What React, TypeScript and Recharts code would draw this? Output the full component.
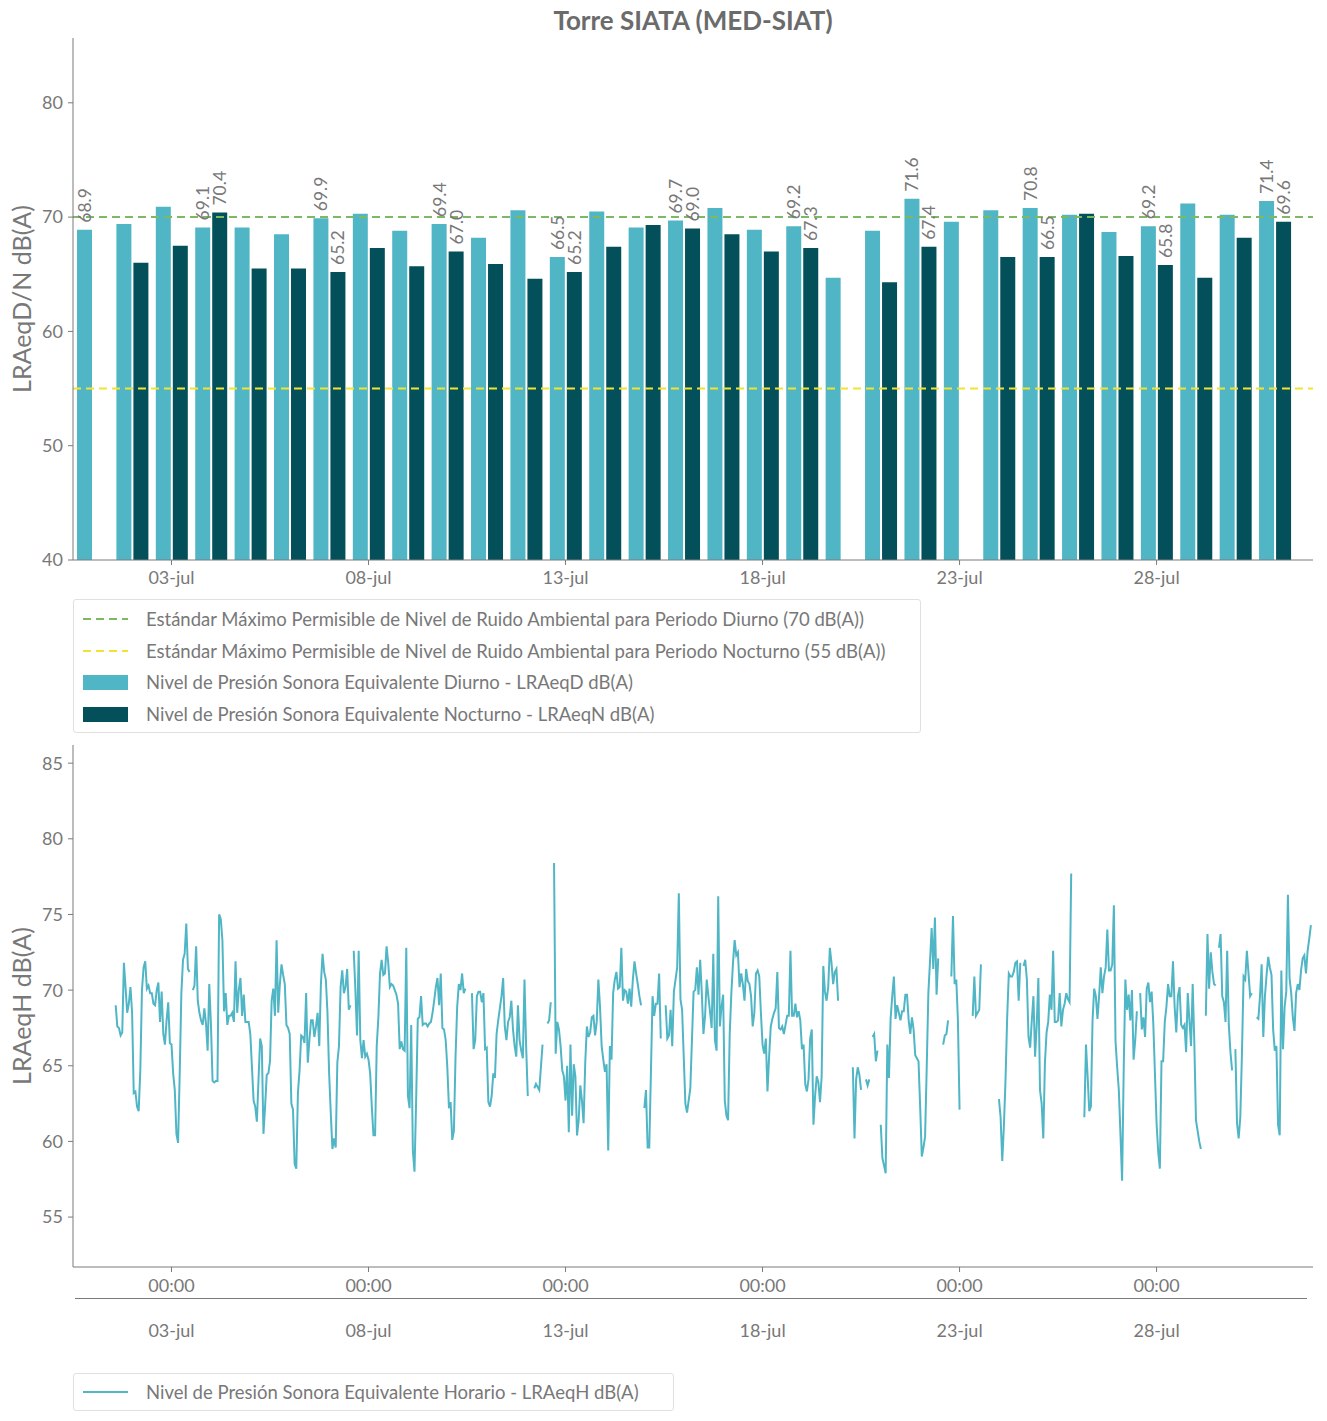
import React from 'react';
import { ComposedChart, Bar, XAxis, YAxis, ReferenceLine, LabelList, LineChart, Line } from 'recharts';

const FONT = 'Lato, "Noto Sans", sans-serif';
const TEXT = '#787878';
const AXIS = '#7a7a7a';
const LIGHT = '#50b6c5';
const DARK = '#03505a';
const GREEN = '#7db862';
const YELLOW = '#f2e330';

// days of July
const days = [1, 2, 3, 4, 5, 6, 7, 8, 9, 10, 11, 12, 13, 14, 15, 16, 17, 18, 19, 20, 21, 22, 23, 24, 25, 26, 27, 28, 29, 30, 31];
const diurno = [68.9, 69.4, 70.9, 69.1, 69.1, 68.5, 69.9, 70.3, 68.8, 69.4, 68.2, 70.6, 66.5, 70.5, 69.1, 69.7, 70.8, 68.9, 69.2, 64.7, 68.8, 71.6, 69.6, 70.6, 70.8, 70.2, 68.7, 69.2, 71.2, 70.2, 71.4];
const nocturno = [null, 66.0, 67.5, 70.4, 65.5, 65.5, 65.2, 67.3, 65.7, 67.0, 65.9, 64.6, 65.2, 67.4, 69.3, 69.0, 68.5, 67.0, 67.3, null, 64.3, 67.4, null, 66.5, 66.5, 70.3, 66.6, 65.8, 64.7, 68.2, 69.6];
const labeledDays = [1, 4, 7, 10, 13, 16, 19, 22, 25, 28, 31];
const dateTicks = [3, 8, 13, 18, 23, 28];
const topTicks = [40, 50, 60, 70, 80];
const bottomTicks = [55, 60, 65, 70, 75, 80, 85];
const limitDay = 70;
const limitNight = 55;

// hourly LRAeqH, one row of 24 hours per day
const lraeqH: (number | null)[][] = [
  [null, null, null, null, null, null, null, null, null, null, null, null, null, null, 69.0, 67.6, 67.5, 67.0, 67.2, 71.8, 70.2, 68.5, 69.1, 70.2],
  [68.5, 63.2, 63.3, 62.3, 62.0, 64.7, 70.0, 71.5, 71.9, 70.1, 70.3, 69.8, 69.8, 69.1, 69.0, 70.0, 70.5, 67.9, 69.9, 67.1, 66.4, 68.0, 69.2, 66.5],
  [66.4, 64.5, 63.4, 60.5, 59.9, 64.5, 69.8, 72.0, 72.4, 74.4, 71.4, 71.2, null, 70.0, 70.3, 72.9, 69.3, 68.5, 68.0, 67.7, 68.8, 67.8, 66.0, 70.4],
  [67.8, 64.0, 63.9, 64.0, 64.0, 75.0, 74.7, 73.3, 68.6, 69.8, 67.7, 68.3, 68.3, 68.5, 67.9, 71.9, 68.5, 70.0, 70.8, 68.3, 69.7, 67.9, 67.9, 67.9],
  [67.1, 64.9, 62.7, 62.3, 61.3, 64.1, 66.8, 66.3, 60.5, 62.3, 64.4, 64.5, 65.3, 69.3, 70.1, 68.3, 73.3, 68.5, 70.4, 71.7, 71.0, 70.4, 67.7, 67.5],
  [67.1, 62.5, 62.1, 58.5, 58.2, 63.2, 64.7, 67.0, 66.9, 66.5, 69.8, 65.2, 66.7, 68.0, 68.0, 66.9, 67.6, 68.5, 66.3, 70.4, 72.4, 71.2, 70.7, 68.5],
  [64.5, 61.9, 59.5, 60.2, 59.6, 65.2, 66.3, 70.2, 71.3, 69.8, 70.2, 71.4, 68.7, 69.0, null, 72.6, 70.0, 67.0, 72.6, 66.7, 65.5, 66.7, 65.6, 65.8],
  [65.4, 64.5, 62.3, 60.4, 60.4, 66.3, 68.2, 71.1, 72.0, 71.0, 71.1, 72.9, 71.8, 70.2, 70.4, 70.3, 70.0, 69.7, 69.1, 66.1, 66.6, 66.1, 66.0, 72.8],
  [63.0, 62.2, 67.7, 59.4, 58.0, 62.7, 68.1, 68.2, 69.6, 67.7, 67.8, 67.8, 67.6, 67.8, 67.9, 68.5, 69.3, 70.2, 70.8, 69.0, 71.1, 67.5, 67.4, 66.7],
  [64.9, 62.2, 62.6, 60.1, 60.7, 65.6, 68.9, 70.4, 70.0, 71.1, 69.8, 70.1, null, null, null, 69.8, 66.1, 66.7, 69.6, 69.9, 69.9, 69.2, 69.8, 66.1],
  [66.2, 62.6, 62.3, 63.0, 64.5, 64.2, 67.1, 68.0, 68.8, 69.6, 70.8, 67.6, 66.7, 67.9, 68.2, 69.3, 67.4, 66.3, 65.6, 69.0, 66.7, 66.0, 65.5, 70.7],
  [66.3, 63.0, null, null, null, 63.5, 63.8, 63.6, 63.4, 64.9, 66.4, null, null, 67.8, 68.0, 69.2, null, 78.4, 65.8, 67.9, 67.4, 66.3, 64.7, 64.3],
  [62.7, 65.0, 60.6, 66.4, 61.7, 65.1, 64.3, 60.4, 61.4, 63.7, 62.7, 61.2, 65.2, 67.6, 66.9, 67.2, 68.2, 68.3, 67.0, 67.9, 70.7, 68.9, 66.3, 65.4],
  [64.6, 65.1, 59.4, 66.3, 65.4, 69.8, 70.7, 71.2, 70.1, 70.2, 72.8, 69.3, 70.0, 69.9, 69.1, 70.1, 68.9, 70.7, 71.9, 71.1, 70.4, 69.6, 69.0, null],
  [62.2, 63.4, 59.6, 59.6, 64.5, 69.6, 68.3, 69.1, 69.1, 71.1, 66.8, null, null, 69.0, 66.8, 67.0, 68.7, 66.3, 69.9, 70.7, 71.5, 76.4, 69.4, 68.7],
  [65.6, 62.5, 61.9, 62.7, 63.5, 66.7, 69.9, 70.0, 71.5, 69.7, 72.0, 69.8, 67.1, 68.3, 70.7, 69.6, 68.6, 67.5, 72.4, 66.7, 66.0, 76.2, 67.6, 68.9],
  [69.7, 62.7, 61.7, 61.4, 67.1, 69.8, 71.8, 73.3, 72.3, 72.5, 70.2, 71.1, 70.4, 69.3, 71.4, 70.6, 70.4, 69.6, 67.6, 68.5, 71.1, 71.3, 70.9, 68.5],
  [66.4, 65.8, 66.8, 63.3, 65.6, 67.6, 68.1, 68.5, 68.8, 71.2, 67.5, 67.4, 67.6, 67.1, 67.7, 68.3, 68.3, 72.6, 68.3, 68.3, 69.1, 68.2, 68.6, 68.0],
  [66.1, 66.4, 63.8, 63.3, 64.1, 66.8, 67.4, 61.1, 63.0, 64.3, 63.9, 62.6, 64.3, 71.6, 69.9, 69.3, 70.2, 72.8, 71.8, 70.4, 71.2, 71.4, 69.3, null],
  [null, null, null, null, null, null, null, 64.9, 60.2, 64.1, 64.9, 64.4, 63.4, null, null, 64.1, 63.7, 64.1, null, 66.9, 67.1, 65.3, 66.0, null],
  [61.1, 58.9, 58.4, 57.9, 66.4, 64.2, 68.1, 69.6, 70.9, 68.1, 69.0, 68.5, 68.0, 68.6, 68.6, 69.7, 69.7, 68.0, 67.1, 68.2, 67.4, 65.7, 65.5, 65.3],
  [62.3, 59.0, 59.6, 60.3, 64.9, 69.8, 71.9, 74.1, 71.4, 74.8, 69.7, 72.1, null, null, 66.4, 67.0, 67.1, 68.0, null, 70.9, 74.9, 70.4, 70.7, 68.0],
  [62.1, null, null, null, null, null, null, null, 68.3, 70.9, 68.3, 68.5, 68.7, 71.7, null, null, null, null, null, null, null, null, null, null],
  [62.8, 61.6, 58.7, 61.0, 64.1, 68.2, 71.1, 70.9, 70.9, 71.2, 71.8, 71.9, 69.3, 71.8, null, 71.6, 72.0, 70.7, 66.9, 66.2, 68.0, 69.6, 65.6, 67.7],
  [70.8, 63.4, 62.5, 60.2, 65.2, 67.2, 67.9, 69.7, 68.7, 72.6, 67.9, 67.9, 68.0, 69.8, 67.6, 68.7, 69.1, 69.8, 69.4, 69.2, 77.7, null, null, null],
  [null, null, null, null, 61.6, 66.4, 64.3, 62.0, 62.3, 68.0, 70.1, 69.6, 68.1, 69.6, 71.5, 69.8, 70.9, 71.5, 74.0, 71.3, 71.3, 71.7, 75.6, 66.6],
  [64.9, 63.4, 60.5, 57.4, 64.9, 70.7, 68.7, 69.7, 68.0, 70.0, 65.4, 66.7, 68.6, null, 69.8, 67.4, 68.2, 66.9, 70.1, 70.5, 69.2, 69.9, 67.8, 64.5],
  [61.2, 59.3, 58.2, 65.3, 65.3, 67.9, 68.9, 70.4, 69.6, 69.6, 71.9, 68.9, 67.2, 69.6, 70.2, 67.7, 67.5, 67.7, 65.9, 69.8, 68.0, 66.3, 70.4, 66.5],
  [61.4, 60.7, 60.0, 59.5, null, null, 68.3, 73.7, 70.1, 72.5, 71.2, 70.4, 70.3, null, 72.8, 73.7, 69.6, 69.2, 67.9, 72.6, 67.7, 65.9, 64.7, null],
  [66.1, 61.2, 60.2, 61.6, 65.8, 70.9, 70.7, 72.6, 71.1, 69.6, 69.8, null, null, 68.2, 68.1, 69.6, 71.7, 66.9, 69.6, 71.0, 72.2, 71.5, 71.0, 67.4],
  [66.0, 66.3, 61.1, 60.4, 71.3, 66.1, 68.9, 69.9, 76.3, 70.8, 69.8, 68.2, 67.3, 69.8, 70.4, 70.0, 71.3, 72.1, 72.3, 71.1, 72.6, 73.4, 74.3, null],
];

const barData = days.map((d, i) => ({
  day: d,
  diurno: diurno[i],
  nocturno: nocturno[i],
  diurnoLabel: labeledDays.includes(d) ? diurno[i] : null,
  nocturnoLabel: labeledDays.includes(d) ? nocturno[i] : null,
}));

const lineData = lraeqH.flatMap((row, di) => row.map((v, h) => ({ t: days[di] + h / 24, v })));

const X_DOMAIN: [number, number] = [0.5, 31.97];
const fmtDate = (d: number) => `${String(d).padStart(2, '0')}-jul`;

const tickStyle = { fill: TEXT, fontSize: 18, fontFamily: FONT };

const BarValueLabel = (props: any) => {
  const { x, y, width, value } = props;
  if (value == null) return null;
  const cx = x + width / 2;
  const ty = y - 7;
  return (
    <text
      x={cx}
      y={ty}
      transform={`rotate(-90 ${cx} ${ty})`}
      textAnchor="start"
      dominantBaseline="central"
      fill={TEXT}
      fontSize={17.5}
      fontFamily={FONT}
    >
      {Number(value).toFixed(1)}
    </text>
  );
};

const DoubleTick = (props: any) => {
  const { x, y, payload } = props;
  return (
    <g>
      <text x={x} y={y} dy={13.5} textAnchor="middle" {...tickStyle}>00:00</text>
      <text x={x} y={y} dy={58.5} textAnchor="middle" {...tickStyle}>{fmtDate(payload.value)}</text>
    </g>
  );
};

const legendRow: React.CSSProperties = {
  position: 'absolute',
  left: 9,
  display: 'flex',
  alignItems: 'center',
  height: 20,
};

const legendText: React.CSSProperties = {
  marginLeft: 18,
  fontSize: 18.5,
  color: TEXT,
  whiteSpace: 'nowrap',
};

const DashSymbol = ({ color }: { color: string }) => (
  <svg width={45} height={6}>
    <line x1={0} y1={3} x2={45} y2={3} stroke={color} strokeWidth={2} strokeDasharray="8 5" />
  </svg>
);

const PatchSymbol = ({ color }: { color: string }) => <div style={{ width: 45, height: 15, background: color }} />;

const VLabel = ({ text, cy }: { text: string; cy: number }) => (
  <div
    style={{
      position: 'absolute',
      left: 21,
      top: cy,
      transform: 'translate(-50%, -50%) rotate(-90deg)',
      fontSize: 25,
      color: TEXT,
      whiteSpace: 'nowrap',
    }}
  >
    {text}
  </div>
);

export default function App() {
  return (
    <div style={{ position: 'relative', width: 1327, height: 1421, background: '#fff', fontFamily: FONT }}>
      <style>{'body{margin:0}'}</style>

      <div
        style={{
          position: 'absolute',
          left: 73,
          width: 1240,
          top: 4,
          textAlign: 'center',
          fontSize: 26,
          fontWeight: 700,
          color: '#6b6b6b',
        }}
      >
        Torre SIATA (MED-SIAT)
      </div>

      <div style={{ position: 'absolute', left: 0, top: 0 }}>
        <ComposedChart width={1327} height={600} data={barData} margin={{ top: 38, right: 14, bottom: 10, left: 0 }} barGap={2}>
          <XAxis
            dataKey="day"
            type="number"
            domain={X_DOMAIN}
            allowDataOverflow
            ticks={dateTicks}
            tickFormatter={fmtDate}
            tick={tickStyle}
            tickSize={5}
            tickMargin={6}
            height={30}
            stroke={AXIS}
          />
          <YAxis
            type="number"
            domain={[40, 85.67]}
            allowDataOverflow
            ticks={topTicks}
            tick={tickStyle}
            tickSize={5}
            tickMargin={5}
            width={73}
            stroke={AXIS}
          />
          <Bar dataKey="diurno" fill={LIGHT} barSize={15} isAnimationActive={false}>
            <LabelList dataKey="diurnoLabel" content={BarValueLabel} />
          </Bar>
          <Bar dataKey="nocturno" fill={DARK} barSize={15} isAnimationActive={false}>
            <LabelList dataKey="nocturnoLabel" content={BarValueLabel} />
          </Bar>
          <ReferenceLine y={limitDay} stroke={GREEN} strokeWidth={2} strokeDasharray="8 5" />
          <ReferenceLine y={limitNight} stroke={YELLOW} strokeWidth={2} strokeDasharray="8 5" />
        </ComposedChart>
      </div>
      <VLabel text="LRAeqD/N dB(A)" cy={299} />

      <div
        style={{
          position: 'absolute',
          left: 73,
          top: 599,
          width: 848,
          height: 134,
          border: '1px solid #e0e0e0',
          borderRadius: 3,
          boxSizing: 'border-box',
        }}
      >
        <div style={{ ...legendRow, top: 9 }}>
          <DashSymbol color={GREEN} />
          <span style={legendText}>Estándar Máximo Permisible de Nivel de Ruido Ambiental para Periodo Diurno (70 dB(A))</span>
        </div>
        <div style={{ ...legendRow, top: 41 }}>
          <DashSymbol color={YELLOW} />
          <span style={legendText}>Estándar Máximo Permisible de Nivel de Ruido Ambiental para Periodo Nocturno (55 dB(A))</span>
        </div>
        <div style={{ ...legendRow, top: 72 }}>
          <PatchSymbol color={LIGHT} />
          <span style={legendText}>Nivel de Presión Sonora Equivalente Diurno - LRAeqD dB(A)</span>
        </div>
        <div style={{ ...legendRow, top: 104 }}>
          <PatchSymbol color={DARK} />
          <span style={legendText}>Nivel de Presión Sonora Equivalente Nocturno - LRAeqN dB(A)</span>
        </div>
      </div>

      <div style={{ position: 'absolute', left: 0, top: 707 }}>
        <LineChart width={1327} height={640} data={lineData} margin={{ top: 38, right: 14, bottom: 0, left: 0 }}>
          <XAxis
            dataKey="t"
            type="number"
            domain={X_DOMAIN}
            allowDataOverflow
            ticks={dateTicks}
            tick={<DoubleTick />}
            tickSize={5}
            tickMargin={6}
            height={80}
            stroke={AXIS}
          />
          <YAxis
            type="number"
            domain={[51.7, 86.2]}
            allowDataOverflow
            ticks={bottomTicks}
            tick={tickStyle}
            tickSize={5}
            tickMargin={5}
            width={73}
            stroke={AXIS}
          />
          <Line
            dataKey="v"
            type="linear"
            stroke={LIGHT}
            strokeWidth={2}
            dot={false}
            connectNulls={false}
            isAnimationActive={false}
          />
        </LineChart>
      </div>
      <VLabel text="LRAeqH dB(A)" cy={1006} />

      <div style={{ position: 'absolute', left: 75, top: 1298, width: 1232, borderTop: `1.5px solid ${AXIS}` }} />

      <div
        style={{
          position: 'absolute',
          left: 73,
          top: 1373,
          width: 601,
          height: 38,
          border: '1px solid #e0e0e0',
          borderRadius: 3,
          boxSizing: 'border-box',
        }}
      >
        <div style={{ ...legendRow, top: 8 }}>
          <DashSymbol color="transparent" />
          <span style={legendText}>Nivel de Presión Sonora Equivalente Horario - LRAeqH dB(A)</span>
        </div>
        <svg width={45} height={4} style={{ position: 'absolute', left: 9, top: 16 }}>
          <line x1={0} y1={2} x2={45} y2={2} stroke={LIGHT} strokeWidth={2} />
        </svg>
      </div>
    </div>
  );
}
